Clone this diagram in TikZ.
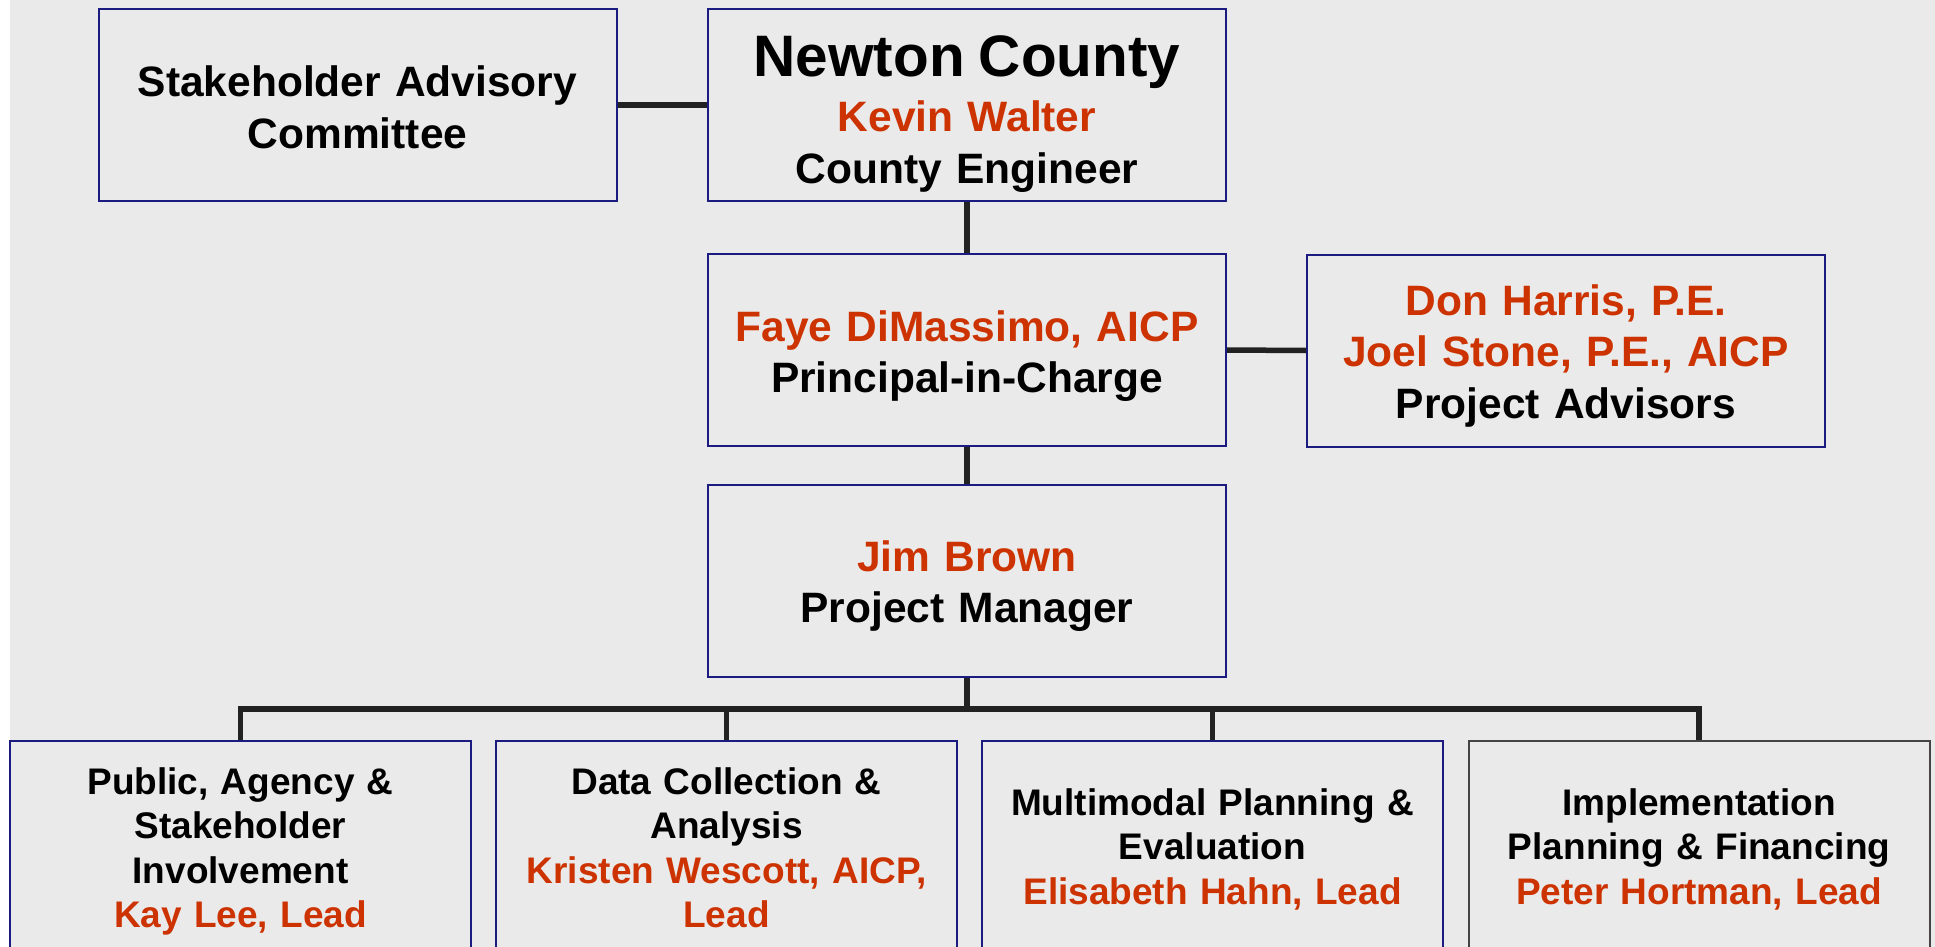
\documentclass[tikz,border=0pt]{standalone}
\usepackage{fontspec}
\setmainfont{Liberation Sans}

\definecolor{bggray}{HTML}{EAEAEA}
\definecolor{navy}{HTML}{1C1C80}
\definecolor{rust}{HTML}{CC3300}
\definecolor{linkgray}{HTML}{222222}
\definecolor{framegray}{HTML}{444444}

\tikzset{
  unit/.style={draw=navy, line width=2pt, fill=bggray, inner sep=0pt,
    align=center, text height=0pt,
    font=\bfseries\fontsize{42.5}{51.5}\selectfont},
  headbox/.style={unit, text width=518pt, minimum height=192pt},
  taskbox/.style={unit, text width=461pt, minimum height=216pt,
    font=\bfseries\fontsize{37}{44.5}\selectfont},
  wire/.style={draw=linkgray, line width=5.5pt}
}

\begin{document}
\begin{tikzpicture}[x=1pt, y=-1pt]

% рамка и фон
\useasboundingbox (0,0) rectangle (1935,947);
\clip (0,0) rectangle (1935,947);
\fill[bggray] (10,0) rectangle (1935,947);

% руководство
\node[headbox, text depth=16pt] (stake) at (357.5,105)
  {Stakeholder Advisory\\ Committee};
\node[headbox, text depth=56pt] (county) at (967,105)
  {{\fontsize{58.5}{60}\selectfont Newton County}\\[3.5pt]
   \textcolor{rust}{Kevin Walter}\\ County Engineer};
\node[headbox, text depth=18pt] (principal) at (967,350)
  {\textcolor{rust}{Faye DiMassimo, AICP}\\ Principal-in-Charge};
\node[headbox, text depth=71pt] (advisors) at (1566,350.5)
  {\textcolor{rust}{Don Harris, P.E.}\\
   \textcolor{rust}{Joel Stone, P.E., AICP}\\ Project Advisors};
\node[headbox, text depth=20pt] (manager) at (967,581)
  {\textcolor{rust}{Jim Brown}\\ Project Manager};

% задачи
\node[taskbox, text depth=110pt] (task1) at (240.5,849)
  {Public, Agency \&\\ Stakeholder\\ Involvement\\
   \textcolor{rust}{Kay Lee, Lead}};
\node[taskbox, text depth=110pt] (task2) at (726.5,849)
  {Data Collection \&\\ Analysis\\
   \textcolor{rust}{Kristen Wescott, AICP,}\\ \textcolor{rust}{Lead}};
\node[taskbox, text depth=68pt] (task3) at (1212.5,849)
  {Multimodal Planning \&\\ Evaluation\\
   \textcolor{rust}{Elisabeth Hahn, Lead}};
\node[taskbox, draw=framegray, text depth=68pt] (task4) at (1699,849)
  {Implementation\\ Planning \& Financing\\
   \textcolor{rust}{Peter Hortman, Lead}};

% связи
\coordinate (bus) at (967,709);
\draw[wire] (stake.east) -- (county.west);
\draw[wire] (county.south) -- (principal.north);
\draw[wire] (principal.east) -- (advisors.west);
\draw[wire] (principal.south) -- (manager.north);
\foreach \t in {task1,task2,task3,task4}
  \draw[wire] (manager.south) -- (bus) -| (\t.north);

\end{tikzpicture}
\end{document}
